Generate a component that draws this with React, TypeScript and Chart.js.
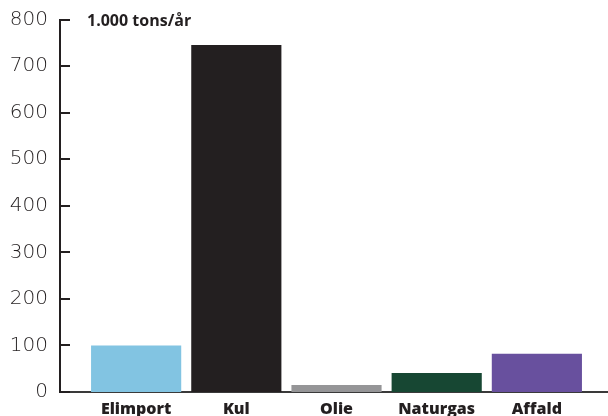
import React, { useEffect, useRef } from "react";
import { Chart, registerables } from "chart.js";

Chart.register(...registerables);

// Energy source categories and annual amounts (1.000 tons/år)
const categories = ["Elimport", "Kul", "Olie", "Naturgas", "Affald"];
const amounts = [100, 745, 15, 41, 82];
const barColors = ["#82c4e2", "#231f20", "#959597", "#174733", "#68509e"];
const yTicks = [0, 100, 200, 300, 400, 500, 600, 700, 800];
const unitLabel = "1.000 tons/år";

const INK = "#231f20";

// Short tick marks pointing into the plot, plus the unit label
const axisDecor = {
  id: "axisDecor",
  afterDraw(chart: any) {
    const { ctx, chartArea, scales } = chart;
    const y = scales.y;
    ctx.save();
    ctx.strokeStyle = INK;
    ctx.lineWidth = 2;
    yTicks.forEach((v) => {
      const py = Math.round(y.getPixelForValue(v));
      ctx.beginPath();
      ctx.moveTo(chartArea.left, py);
      ctx.lineTo(chartArea.left + 10, py);
      ctx.stroke();
    });
    ctx.fillStyle = INK;
    ctx.font = "bold 16px 'Open Sans', sans-serif";
    ctx.textBaseline = "middle";
    ctx.textAlign = "left";
    ctx.fillText(unitLabel, chartArea.left + 27, y.getPixelForValue(800) + 1.5);
    ctx.restore();
  },
};

export default function App() {
  const ref = useRef<HTMLCanvasElement>(null);

  useEffect(() => {
    if (!ref.current) return;
    const chart = new Chart(ref.current, {
      type: "bar",
      data: {
        datasets: [
          {
            data: amounts.map((v, i) => ({ x: i, y: v })),
            backgroundColor: barColors,
            borderWidth: 0,
            barPercentage: 0.9,
            categoryPercentage: 1,
          },
        ],
      },
      options: {
        animation: false,
        responsive: false,
        maintainAspectRatio: false,
        layout: { padding: { top: 19.5, right: 0, left: 0, bottom: 0 } },
        plugins: {
          legend: { display: false },
          tooltip: { enabled: false },
        },
        scales: {
          x: {
            type: "linear",
            offset: false,
            min: -0.76,
            max: 4.71,
            afterFit: (s: any) => {
              s.height = 24;
              s.paddingLeft = 0;
              s.paddingRight = 0;
            },
            afterBuildTicks: (s: any) => {
              s.ticks = categories.map((_, i) => ({ value: i }));
            },
            grid: { display: false, drawTicks: false, offset: false },
            border: { display: true, color: "#3a3a3a", width: 2 },
            ticks: {
              autoSkip: false,
              maxRotation: 0,
              padding: 8,
              color: INK,
              font: { family: "'Open Sans', sans-serif", weight: "800", size: 16 },
              callback: (v: any) => categories[v] ?? "",
            },
          },
          y: {
            min: 0,
            max: 800,
            afterFit: (s: any) => {
              s.width = 60;
              s.paddingTop = 0;
              s.paddingBottom = 0;
            },
            afterBuildTicks: (s: any) => {
              s.ticks = yTicks.map((v) => ({ value: v }));
            },
            grid: { display: false, drawTicks: false },
            border: { display: true, color: INK, width: 2 },
            ticks: {
              padding: 12,
              color: INK,
              font: { family: "'DejaVu Sans', sans-serif", weight: 200, size: 20 },
            },
          },
        },
      },
      plugins: [axisDecor],
    });
    return () => chart.destroy();
  }, []);

  return (
    <div style={{ position: "fixed", left: 0, top: 0, width: 608, height: 416, background: "#fff" }}>
      <canvas ref={ref} width={608} height={416} />
    </div>
  );
}
